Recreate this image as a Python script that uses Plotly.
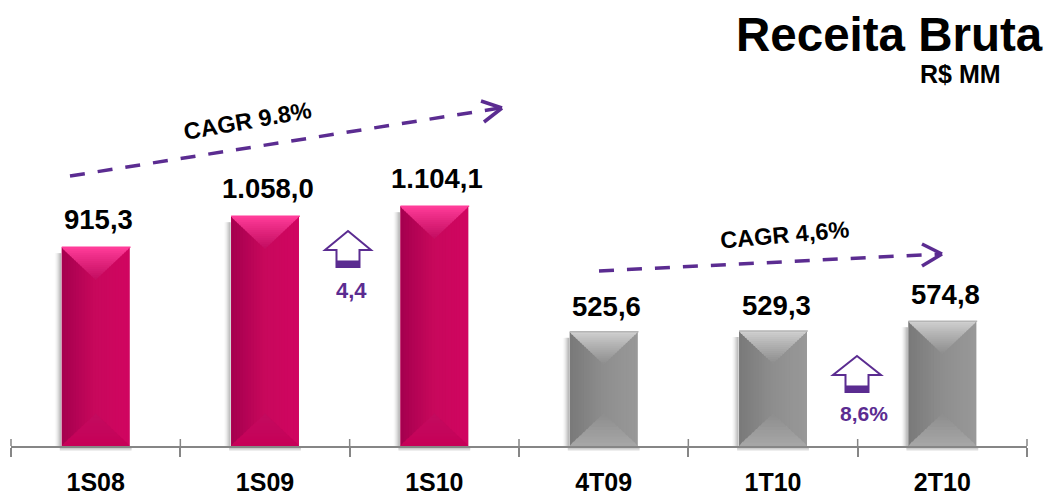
import plotly.graph_objects as go

categories = ["1S08", "1S09", "1S10", "4T09", "1T10", "2T10"]
values = [915.3, 1058.0, 1104.1, 525.6, 529.3, 574.8]
value_labels = ["915,3", "1.058,0", "1.104,1", "525,6", "529,3", "574,8"]

W, H = 1048, 497
ML, MR, MT, MB = 11, 21, 0, 51
PW, PH = W - ML - MR, H - MT - MB
Y_MAX = 2053.0
PX_Y = PH / Y_MAX          # pixels per value unit
PX_X = PW / len(categories)  # pixels per category
BAR_W = 0.4
PURPLE = "#5B2C91"
AXIS = "#868686"
FONT = "Liberation Sans"

label_dx = [3, 3, 3, 3, 3, 3]
label_dy = [15, 15, 15, 13, 13, 14]


def hexrgb(c):
    return tuple(int(c[i:i + 2], 16) for i in (1, 3, 5))


def mix(a, b, t):
    a, b = hexrgb(a), hexrgb(b)
    return "rgb(%d,%d,%d)" % tuple(round(a[i] + (b[i] - a[i]) * t) for i in range(3))


def px(x):
    return (x - ML) / PW


def py(y):
    return 1 - (y - MT) / PH


def seg(x0, y0, x1, y1, color, width, dash=None):
    return dict(type="line", xref="paper", yref="paper", x0=px(x0), y0=py(y0), x1=px(x1), y1=py(y1),
                line=dict(color=color, width=width, dash=dash or "solid"), layer="above")


def poly(points, fill, line=None, w=0):
    p = "M " + " L ".join(f"{px(x):.5f},{py(y):.5f}" for x, y in points) + " Z"
    return dict(type="path", xref="paper", yref="paper", path=p, fillcolor=fill,
                line=dict(color=line or fill, width=w), layer="above")


shapes = []
PALETTES = [
    dict(dark="#A6004F", mid="#C8085C", right="#D00560", hi="#FF3C99", low="#C20C5F", base="#C60058"),
] * 3 + [
    dict(dark="#7A7A7A", mid="#8E8E8E", right="#989898", hi="#CFCFCF", low="#8C8C8C", base="#A6A6A6"),
] * 3

for i, v in enumerate(values):
    pal = PALETTES[i]
    cx = ML + (i + 0.5) * PX_X
    hw = BAR_W * PX_X / 2
    left, right = cx - hw, cx + hw
    top = PH - v * PX_Y
    bot = float(PH)
    # soft drop shadow to the left and below
    for k in range(7):
        t = k / 7
        shapes.append(dict(type="rect", xref="paper", yref="paper", x0=px(left - 8 + k), x1=px(left - 6.5 + k),
                           y0=py(top + 6), y1=py(bot + 2), fillcolor=mix("#FFFFFF", "#A8A8A8", t ** 1.6),
                           line=dict(width=0), layer="below"))
    for k in range(5):
        t = k / 5
        shapes.append(dict(type="rect", xref="paper", yref="paper", x0=px(left - 2), x1=px(right + 2),
                           y0=py(bot + 6 - k), y1=py(bot + 4.5 - k), fillcolor=mix("#FFFFFF", "#ABABAB", t),
                           line=dict(width=0), layer="below"))
    # horizontal body shading
    n = 24
    sw = hw * 2 / n
    for k in range(n):
        t = k / (n - 1)
        col = mix(pal["dark"], pal["mid"], t / 0.5) if t < 0.5 else mix(pal["mid"], pal["right"], (t - 0.5) / 0.5)
        x1 = min(right, left + (k + 1) * sw + 1.2)
        shapes.append(poly([(left + k * sw, top), (x1, top), (x1, bot), (left + k * sw, bot)], col))
    # top bevel
    depth = 32.0
    m = 16
    for k in range(m):
        t0, t1 = k / m, (k + 1) / m
        w0, w1 = hw * (1 - t0), hw * (1 - t1)
        shapes.append(poly([(cx - w0, top + depth * t0), (cx + w0, top + depth * t0),
                            (cx + w1, top + depth * t1 + 1), (cx - w1, top + depth * t1 + 1)],
                           mix(pal["hi"], pal["low"], t0 ** 0.9)))
    # bottom bevel
    depth_b = 32.0
    for k in range(10):
        t0, t1 = k / 10, (k + 1) / 10
        w0, w1 = hw * (1 - t0), hw * (1 - t1)
        shapes.append(poly([(cx - w0, bot - depth_b * t0), (cx + w0, bot - depth_b * t0),
                            (cx + w1, bot - depth_b * t1 - 1), (cx - w1, bot - depth_b * t1 - 1)],
                           mix(pal["base"], pal["low"], t0)))
    # bright top edge
    shapes.append(seg(left, top, right + 1, top, pal["hi"] if i < 3 else "#B5B5B5", 1.5))

# axis ticks rising above the line at the category boundaries
for i in range(len(categories) + 1):
    x = ML + i * PX_X
    shapes.append(seg(x, 439, x, PH, AXIS, 1.5))

# dashed trend arrows
shapes.append(seg(70, 176, 500, 108, PURPLE, 3.5, "15px,13px"))
shapes.append(seg(481, 101, 502, 108, PURPLE, 3.5))
shapes.append(seg(502, 108, 484, 122, PURPLE, 3.5))
shapes.append(seg(599, 271, 940, 254, PURPLE, 3.5, "15px,13px"))
shapes.append(seg(922, 244, 942, 254, PURPLE, 3.5))
shapes.append(seg(942, 254, 922, 266, PURPLE, 3.5))


# outlined up arrows
def up_arrow(tip_x, tip_y, half, wing_y, stem, bottom, thick):
    shapes.append(poly([(tip_x, tip_y), (tip_x + half, wing_y), (tip_x + stem, wing_y), (tip_x + stem, bottom),
                        (tip_x - stem, bottom), (tip_x - stem, wing_y), (tip_x - half, wing_y)],
                       "#FFFFFF", PURPLE, 2))
    shapes.append(poly([(tip_x - stem, thick), (tip_x + stem, thick), (tip_x + stem, bottom), (tip_x - stem, bottom)],
                       PURPLE, PURPLE, 1))


up_arrow(348, 231, 23, 250, 11.5, 267, 261)
up_arrow(857, 356, 24, 375, 11.5, 392, 386)

annotations = []


def text(x, y, s, size, color="#000000", angle=0, xanchor="center"):
    annotations.append(dict(xref="paper", yref="paper", x=px(x), y=py(y), text=f"<b>{s}</b>", showarrow=False,
                            font=dict(family=FONT, size=size, color=color), textangle=angle,
                            xanchor=xanchor, yanchor="middle"))


for i, (v, s) in enumerate(zip(values, value_labels)):
    annotations.append(dict(x=i, y=v, xref="x", yref="y", text=f"<b>{s}</b>", showarrow=False,
                            font=dict(family=FONT, size=27.5, color="#000000"), xanchor="center", yanchor="bottom",
                            xshift=label_dx[i], yshift=label_dy[i] - 5))

text(1045, 34, "Receita Bruta", 47.5, xanchor="right")
text(960, 74, "R$ MM", 25)
text(247, 121, "CAGR 9.8%", 23.5, angle=-10)
text(784, 235, "CAGR 4,6%", 23.5, angle=-5)
text(351, 290, "4,4", 22, PURPLE)
text(864, 413, "8,6%", 21, PURPLE)

bar_colors = [p["mid"] for p in PALETTES]
fig = go.Figure(go.Bar(x=categories, y=values, width=BAR_W, marker=dict(color=bar_colors, line=dict(width=0)),
                       hoverinfo="skip"))
fig.update_layout(
    width=W, height=H, margin=dict(l=ML, r=MR, t=MT, b=MB, autoexpand=False), paper_bgcolor="white", plot_bgcolor="white",
    showlegend=False, shapes=shapes, annotations=annotations,
    xaxis=dict(type="category", range=[-0.5, 5.5], tickson="boundaries", ticks="outside", ticklen=9, tickwidth=1.5,
               tickcolor=AXIS, showline=True, linecolor=AXIS, linewidth=2, showgrid=False, zeroline=False,
               automargin=False, tickfont=dict(family=FONT, size=25, color="#000000"), ticklabelstandoff=13,
               tickvals=categories, ticktext=[f"<b>{c}</b>" for c in categories]),
    yaxis=dict(range=[0, Y_MAX], visible=False, automargin=False),
)
fig.write_html("out.html", config={"displayModeBar": False},
               post_script="document.documentElement.style.overflow='hidden';document.body.style.margin='0';")
